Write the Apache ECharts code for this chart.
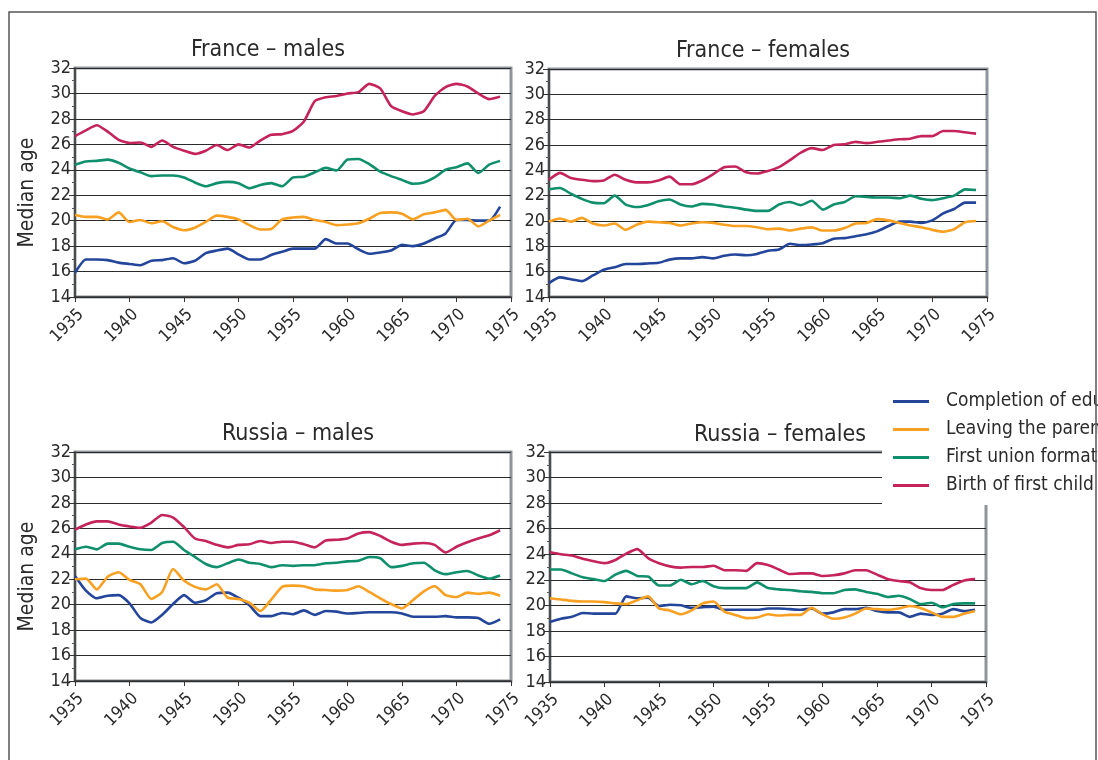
<!DOCTYPE html>
<html>
<head>
<meta charset="utf-8">
<title>Median age at transitions</title>
<script src="https://cdn.jsdelivr.net/npm/echarts@6/dist/echarts.min.js"></script>
<style>
  html, body { margin: 0; padding: 0; background: #fff; }
  #chart { width: 1098px; height: 760px; }
</style>
</head>
<body>
<div id="chart"></div>
<script>
// years of birth (cohorts)
var years = [1935, 1936, 1937, 1938, 1939, 1940, 1941, 1942, 1943, 1944,
  1945, 1946, 1947, 1948, 1949, 1950, 1951, 1952, 1953, 1954,
  1955, 1956, 1957, 1958, 1959, 1960, 1961, 1962, 1963, 1964,
  1965, 1966, 1967, 1968, 1969, 1970, 1971, 1972, 1973, 1974];

var seriesNames = ['Completion of education', 'Leaving the parental home',
  'First union formation', 'Birth of first child'];
var seriesColors = ['#23459a', '#f7a021', '#0f8f6c', '#c4245a'];
var panelTitles = ['France \u2013 males', 'France \u2013 females', 'Russia \u2013 males', 'Russia \u2013 females'];
var yTicks = [14, 32, 2]; // min, max, step
var xTicks = [1935, 1975, 5];

// France - males
var frMaleEdu = [15.9, 16.95, 16.95, 16.9, 16.7, 16.6, 16.5, 16.85, 16.9, 17.05,
  16.65, 16.85, 17.45, 17.65, 17.8, 17.35, 16.95, 16.95, 17.3, 17.55,
  17.8, 17.8, 17.8, 18.55, 18.2, 18.2, 17.75, 17.4, 17.5, 17.65,
  18.1, 18.0, 18.2, 18.6, 19.0, 20.05, 20.05, 20.0, 20.0, 21.1];
var frMaleHome = [20.45, 20.3, 20.3, 20.1, 20.65, 19.9, 20.05, 19.8, 19.95, 19.5,
  19.25, 19.45, 19.9, 20.4, 20.3, 20.1, 19.65, 19.3, 19.35, 20.1,
  20.25, 20.3, 20.05, 19.9, 19.65, 19.7, 19.8, 20.15, 20.6, 20.65,
  20.55, 20.1, 20.5, 20.65, 20.85, 20.05, 20.15, 19.55, 20.0, 20.45];
var frMaleUnion = [24.4, 24.65, 24.7, 24.8, 24.55, 24.1, 23.8, 23.5, 23.55, 23.55,
  23.4, 23.0, 22.7, 22.95, 23.05, 22.95, 22.55, 22.8, 22.95, 22.7,
  23.4, 23.45, 23.8, 24.15, 23.95, 24.8, 24.85, 24.45, 23.85, 23.5,
  23.2, 22.9, 23.0, 23.4, 24.0, 24.2, 24.5, 23.75, 24.4, 24.7];
var frMaleChild = [26.65, 27.1, 27.5, 27.0, 26.35, 26.1, 26.15, 25.8, 26.3, 25.8,
  25.5, 25.25, 25.5, 25.95, 25.55, 26.0, 25.75, 26.3, 26.75, 26.8,
  27.05, 27.8, 29.4, 29.7, 29.8, 30.0, 30.1, 30.75, 30.4, 29.0,
  28.6, 28.35, 28.6, 29.8, 30.5, 30.75, 30.55, 30.0, 29.55, 29.75];

// France - females
var frFemEdu = [15.1, 15.55, 15.4, 15.25, 15.7, 16.15, 16.35, 16.6, 16.6, 16.65,
  16.7, 16.95, 17.05, 17.05, 17.15, 17.05, 17.25, 17.35, 17.3, 17.4,
  17.65, 17.75, 18.2, 18.1, 18.15, 18.25, 18.6, 18.65, 18.8, 18.95,
  19.2, 19.6, 19.95, 19.95, 19.85, 20.05, 20.6, 20.95, 21.45, 21.45];
var frFemHome = [19.95, 20.2, 19.95, 20.25, 19.8, 19.65, 19.8, 19.3, 19.7, 19.95,
  19.9, 19.85, 19.65, 19.8, 19.9, 19.85, 19.7, 19.6, 19.6, 19.5,
  19.35, 19.4, 19.25, 19.4, 19.5, 19.25, 19.25, 19.45, 19.8, 19.85,
  20.15, 20.05, 19.85, 19.65, 19.5, 19.3, 19.15, 19.35, 19.9, 20.0];
var frFemUnion = [22.5, 22.6, 22.15, 21.75, 21.45, 21.4, 22.0, 21.3, 21.1, 21.25,
  21.55, 21.7, 21.3, 21.15, 21.35, 21.3, 21.15, 21.05, 20.9, 20.8,
  20.8, 21.3, 21.5, 21.25, 21.6, 20.9, 21.3, 21.5, 21.95, 21.9,
  21.85, 21.85, 21.8, 22.0, 21.75, 21.65, 21.8, 22.0, 22.5, 22.45];
var frFemChild = [23.25, 23.8, 23.4, 23.25, 23.15, 23.2, 23.65, 23.25, 23.05, 23.05,
  23.2, 23.5, 22.9, 22.9, 23.2, 23.7, 24.25, 24.3, 23.85, 23.75,
  23.95, 24.25, 24.8, 25.4, 25.75, 25.6, 26.0, 26.05, 26.25, 26.15,
  26.25, 26.35, 26.45, 26.5, 26.7, 26.7, 27.1, 27.1, 27.0, 26.9];

// Russia - males
var ruMaleEdu = [22.25, 21.1, 20.5, 20.7, 20.75, 20.1, 18.95, 18.6, 19.2, 20.05,
  20.75, 20.15, 20.35, 20.9, 20.95, 20.55, 19.95, 19.1, 19.1, 19.35,
  19.25, 19.55, 19.2, 19.5, 19.45, 19.3, 19.35, 19.4, 19.4, 19.4,
  19.3, 19.05, 19.05, 19.05, 19.1, 19.0, 19.0, 18.95, 18.5, 18.85];
var ruMaleHome = [22.0, 22.05, 21.2, 22.2, 22.55, 21.95, 21.6, 20.45, 21.0, 22.8,
  21.9, 21.4, 21.2, 21.6, 20.55, 20.45, 20.15, 19.5, 20.4, 21.4,
  21.5, 21.45, 21.2, 21.15, 21.1, 21.15, 21.45, 21.0, 20.5, 20.05,
  19.7, 20.35, 21.05, 21.45, 20.75, 20.6, 20.95, 20.85, 20.95, 20.7];
var ruMaleUnion = [24.35, 24.55, 24.35, 24.8, 24.8, 24.55, 24.35, 24.3, 24.85, 24.95,
  24.3, 23.75, 23.2, 22.95, 23.25, 23.55, 23.3, 23.2, 22.95, 23.1,
  23.05, 23.1, 23.1, 23.25, 23.3, 23.4, 23.45, 23.75, 23.65, 22.95,
  23.05, 23.25, 23.3, 22.7, 22.4, 22.55, 22.65, 22.3, 22.05, 22.3];
var ruMaleChild = [25.9, 26.3, 26.55, 26.55, 26.3, 26.15, 26.05, 26.45, 27.05, 26.85,
  26.1, 25.2, 25.0, 24.7, 24.5, 24.7, 24.75, 25.0, 24.85, 24.95,
  24.95, 24.75, 24.5, 25.05, 25.1, 25.2, 25.6, 25.7, 25.4, 24.95,
  24.7, 24.8, 24.85, 24.7, 24.1, 24.55, 24.9, 25.2, 25.45, 25.85];

// Russia - females
var ruFemEdu = [18.7, 18.95, 19.1, 19.4, 19.35, 19.35, 19.35, 20.7, 20.55, 20.6,
  19.95, 20.05, 20.0, 19.8, 19.85, 19.9, 19.65, 19.65, 19.65, 19.65,
  19.75, 19.75, 19.7, 19.65, 19.75, 19.35, 19.45, 19.7, 19.7, 19.8,
  19.55, 19.45, 19.45, 19.1, 19.35, 19.25, 19.35, 19.7, 19.55, 19.65];
var ruFemHome = [20.55, 20.45, 20.35, 20.3, 20.3, 20.25, 20.15, 20.1, 20.4, 20.7,
  19.75, 19.6, 19.3, 19.6, 20.15, 20.3, 19.5, 19.25, 19.0, 19.05,
  19.3, 19.2, 19.25, 19.25, 19.8, 19.3, 18.95, 19.05, 19.35, 19.75,
  19.7, 19.65, 19.75, 19.95, 19.8, 19.45, 19.1, 19.1, 19.35, 19.55];
var ruFemUnion = [22.8, 22.8, 22.5, 22.2, 22.05, 21.9, 22.4, 22.7, 22.3, 22.25,
  21.55, 21.55, 22.0, 21.65, 21.9, 21.5, 21.35, 21.35, 21.35, 21.8,
  21.35, 21.25, 21.2, 21.1, 21.05, 20.95, 20.95, 21.2, 21.25, 21.05,
  20.9, 20.65, 20.75, 20.5, 20.1, 20.2, 19.85, 20.1, 20.15, 20.15];
var ruFemChild = [24.15, 24.0, 23.9, 23.65, 23.45, 23.3, 23.55, 24.05, 24.4, 23.7,
  23.3, 23.05, 22.95, 23.0, 23.0, 23.1, 22.75, 22.75, 22.7, 23.3,
  23.15, 22.8, 22.45, 22.5, 22.5, 22.3, 22.35, 22.5, 22.75, 22.75,
  22.4, 22.05, 21.9, 21.8, 21.35, 21.2, 21.2, 21.6, 21.95, 22.05];

var panels = [
  [frMaleEdu, frMaleHome, frMaleUnion, frMaleChild],
  [frFemEdu, frFemHome, frFemUnion, frFemChild],
  [ruMaleEdu, ruMaleHome, ruMaleUnion, ruMaleChild],
  [ruFemEdu, ruFemHome, ruFemUnion, ruFemChild]
];

var FONT = '"DejaVu Sans Condensed", "DejaVu Sans", sans-serif';

var gridBoxes = [
  { left: 75, top: 68, width: 436, height: 229 },
  { left: 549, top: 69, width: 438, height: 228 },
  { left: 75, top: 452, width: 436, height: 229 },
  { left: 550, top: 452, width: 436, height: 230 }
];
var titlePos = [[263, 34], [758, 35], [293, 418], [775, 419]];

function pairs(vals) {
  return years.map(function (y, i) { return [y, vals[i]]; });
}

var grids = [], xAxes = [], yAxes = [], titles = [], series = [];
gridBoxes.forEach(function (b, p) {
  grids.push({
    left: b.left, top: b.top, width: b.width, height: b.height,
    show: true, borderColor: '#8e959c', borderWidth: 3, backgroundColor: 'transparent'
  });
  titles.push({
    text: panelTitles[p], left: titlePos[p][0], top: titlePos[p][1], textAlign: 'center',
    textStyle: { fontFamily: FONT, fontSize: 23, fontWeight: 'normal', color: '#2a2a2a' }
  });
  xAxes.push({
    type: 'value', gridIndex: p, min: xTicks[0], max: xTicks[1], interval: xTicks[2],
    axisLine: { lineStyle: { color: '#333', width: 1.5 } },
    axisTick: { show: true, length: 5, lineStyle: { color: '#333' } },
    splitLine: { show: false },
    axisLabel: {
      rotate: 45, fontFamily: FONT, fontSize: 17, color: '#2a2a2a', margin: 21,
      align: 'center', verticalAlign: 'middle', padding: [0, 22, 0, 0],
      formatter: function (v) { return String(v); }
    }
  });
  yAxes.push({
    type: 'value', gridIndex: p, min: yTicks[0], max: yTicks[1], interval: yTicks[2],
    name: (p % 2 === 0) ? 'Median age' : '',
    nameLocation: 'middle', nameGap: 37,
    nameTextStyle: { fontFamily: FONT, fontSize: 21, color: '#2a2a2a', padding: [0, 0, 0, -20] },
    axisLine: { show: true, lineStyle: { color: '#333', width: 1.5 } },
    axisTick: { show: true, length: 6, lineStyle: { color: '#333' } },
    minorTick: { show: true, splitNumber: 2, length: 3, lineStyle: { color: '#555' } },
    splitLine: { show: true, lineStyle: { color: '#2b2b2b', width: 1 } },
    axisLabel: { fontFamily: FONT, fontSize: 18, color: '#2a2a2a', margin: 4 }
  });
  panels[p].forEach(function (vals, s) {
    series.push({
      name: seriesNames[s], type: 'line', xAxisIndex: p, yAxisIndex: p,
      data: pairs(vals), symbol: 'none', smooth: 0.2,
      lineStyle: { color: seriesColors[s], width: 2.6 },
      itemStyle: { color: seriesColors[s] },
      silent: true
    });
  });
});

var chart = echarts.init(document.getElementById('chart'));
chart.setOption({
  animation: false,
  backgroundColor: '#fff',
  title: titles,
  grid: grids,
  xAxis: xAxes,
  yAxis: yAxes,
  legend: {
    data: seriesNames, orient: 'vertical', left: 882, top: 380,
    padding: [12, 220, 10, 11], itemGap: 9, itemWidth: 36, itemHeight: 3,
    icon: 'rect',
    backgroundColor: '#fff', z: 10,
    textStyle: { fontFamily: FONT, fontSize: 19, lineHeight: 18, color: '#2a2a2a', padding: [0, 0, 0, 12] }
  },
  graphic: [{
    type: 'rect', z: 100, silent: true,
    shape: { x: 9, y: 12, width: 1087, height: 800 },
    style: { fill: 'none', stroke: '#555', lineWidth: 1.5 }
  }],
  series: series
});
</script>
</body>
</html>
